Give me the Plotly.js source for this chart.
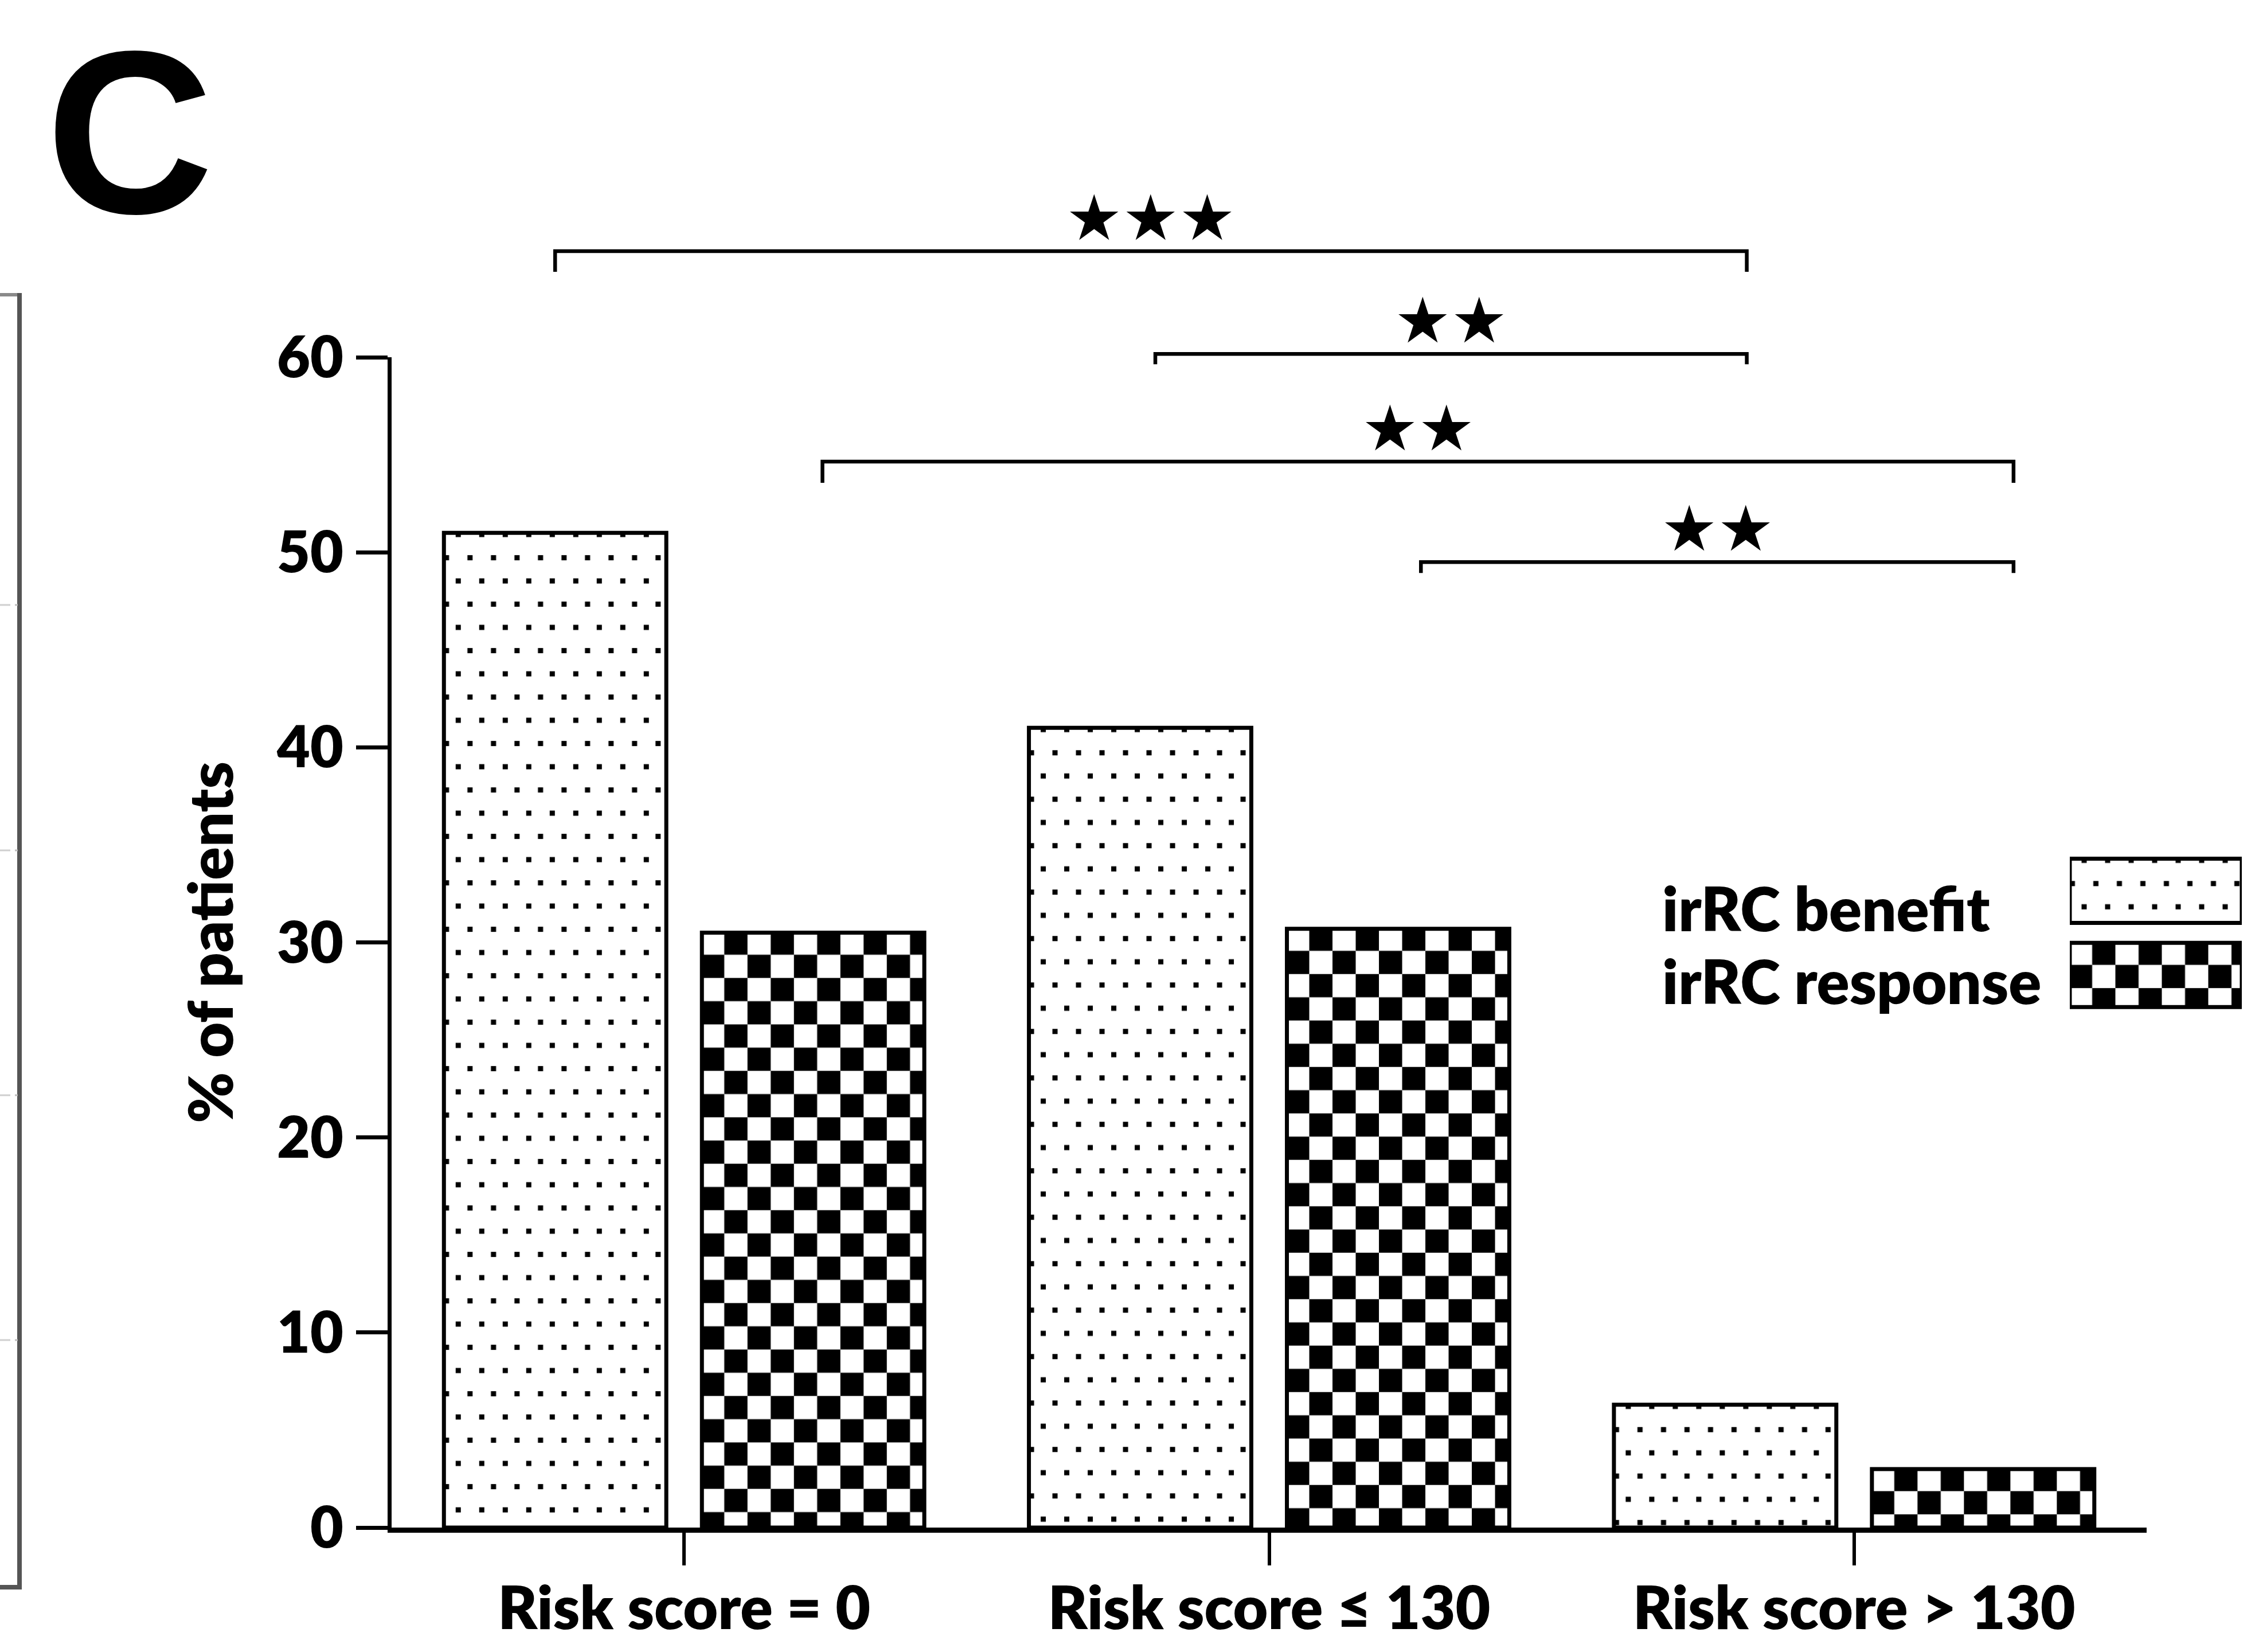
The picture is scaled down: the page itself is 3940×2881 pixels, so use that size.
<!DOCTYPE html>
<html>
<head>
<meta charset="utf-8">
<script src="https://cdn.plot.ly/plotly-3.0.1.min.js"></script>
<style>
  html, body { margin: 0; padding: 0; background: #ffffff; }
  #chart { width: 3940px; height: 2881px; }
</style>
</head>
<body>
<div id="chart"></div>
<script>
// ---------------- data ----------------
const categories   = ['Risk score = 0', 'Risk score \u2264 130', 'Risk score > 130'];
const seriesNames  = ['irRC benefit', 'irRC response'];
const seriesKinds  = ['benefit', 'response'];
const benefitPct   = [51.0, 41.0, 6.3];
const responsePct  = [30.5, 30.7, 3.0];
const yTickVals    = [0, 10, 20, 30, 40, 50, 60];
const yTickText    = ['0', '10', '20', '30', '40', '50', '60'];
const yTitle       = '% of patients';
const panelLetter  = 'C';
// significance comparisons: [category index, series] -> stars
const compFromCat  = [0, 1, 0, 1];
const compFromSer  = ['benefit', 'benefit', 'response', 'response'];
const compToCat    = [2, 2, 2, 2];
const compToSer    = ['benefit', 'benefit', 'response', 'response'];
const compStars    = ['\u2605\u2605\u2605', '\u2605\u2605', '\u2605\u2605', '\u2605\u2605'];
const legendKey    = [1, 1];

// ---------------- geometry / style ----------------
const W = 3940, H = 2881;
const M = { l: 683, r: 30, t: 623, b: 217 };
const PW = W - M.l - M.r, PH = H - M.t - M.b;
const xDomEnd = (3744 - M.l) / PW;
const X_RANGE = [-0.5, 2.5];
const BARGAP = 0.118, BARGROUPGAP = 0.138;
const pxX = px => (px - M.l) / PW;          // page px -> paper x
const pxY = py => (H - M.b - py) / PH;      // page px -> paper y
const dataXtoPaper = x => (x - X_RANGE[0]) / (X_RANGE[1] - X_RANGE[0]) * xDomEnd;
const slot = (1 - BARGAP) / 2;
const barCenter = (cat, ser) => cat + (ser === 'benefit' ? -slot / 2 : slot / 2);

const FONT = 'Lato, "Open Sans", "DejaVu Sans", sans-serif';
const WEIGHT = 800;
const black = '#000000';

// bracket styling (levels in y-axis units, drops in px, small hand-drawn offsets)
const bracketLevels = [65.44, 60.17, 54.65, 49.5];
const bracketDrops  = [36, 18, 37, 19];
const bracketNudgeL = [0.0, 0.026, 0.016, 0.039];
const bracketNudgeR = [0.037, 0.037, 0.052, 0.052];

// ---------------- traces ----------------
const barLine = { color: black, width: 7 };
const traces = [
  {
    type: 'bar', name: seriesNames[0], meta: seriesKinds[0],
    x: categories, y: benefitPct, xaxis: 'x', yaxis: 'y',
    marker: { color: '#ffffff', line: barLine,
      pattern: { shape: '.', fgcolor: black, bgcolor: '#ffffff', size: 40, solidity: 0.05 } },
    showlegend: false, hoverinfo: 'name+y'
  },
  {
    type: 'bar', name: seriesNames[1], meta: seriesKinds[1],
    x: categories, y: responsePct, xaxis: 'x', yaxis: 'y',
    marker: { color: '#ffffff', line: barLine,
      pattern: { shape: '+', fgcolor: black, bgcolor: '#ffffff', size: 81, solidity: 0.5 } },
    showlegend: false, hoverinfo: 'name+y'
  },
  {
    // legend key swatches
    type: 'bar', orientation: 'h', x: legendKey, y: seriesNames, customdata: seriesKinds,
    xaxis: 'x2', yaxis: 'y2', width: 0.763, cliponaxis: false,
    marker: { color: '#ffffff', line: barLine,
      pattern: { shape: ['.', '+'], fgcolor: black, bgcolor: '#ffffff', size: 40, solidity: 0.1 } },
    showlegend: false, hoverinfo: 'skip'
  }
];

// ---------------- shapes & annotations ----------------
const shapes = [];
const annotations = [];

// significance brackets
for (let i = 0; i < compStars.length; i++) {
  const x0 = dataXtoPaper(barCenter(compFromCat[i], compFromSer[i]) + bracketNudgeL[i]);
  const x1 = dataXtoPaper(barCenter(compToCat[i], compToSer[i]) + bracketNudgeR[i]);
  const y = bracketLevels[i] / 60;
  const yd = y - bracketDrops[i] / PH;
  shapes.push({
    type: 'path', xref: 'paper', yref: 'paper',
    path: `M ${x0} ${yd} L ${x0} ${y} L ${x1} ${y} L ${x1} ${yd}`,
    line: { color: black, width: 6.5 }
  });
  annotations.push({
    xref: 'paper', yref: 'paper', x: (x0 + x1) / 2, y: y,
    xanchor: 'center', yanchor: 'middle', yshift: 58, showarrow: false,
    text: compStars[i],
    font: { family: '"DejaVu Sans", sans-serif', size: 110, color: black }
  });
}

// legend labels (left of swatches)
annotations.push({
  xref: 'paper', yref: 'paper', x: pxX(2897), y: pxY(1583), xanchor: 'left', yanchor: 'middle',
  showarrow: false, text: seriesNames[0],
  font: { family: FONT, weight: WEIGHT, size: 106, color: black }
});
annotations.push({
  xref: 'paper', yref: 'paper', x: pxX(2897), y: pxY(1710), xanchor: 'left', yanchor: 'middle',
  showarrow: false, text: seriesNames[1],
  font: { family: FONT, weight: WEIGHT, size: 106, color: black }
});

// panel letter
annotations.push({
  xref: 'paper', yref: 'paper', x: pxX(226), y: pxY(2), xanchor: 'center', yanchor: 'top',
  showarrow: false, text: panelLetter,
  font: { family: '"Liberation Sans", Arial, sans-serif', weight: 'bold', size: 405, color: black }
});

// remnant frame of neighbouring panel at the left edge
shapes.push({
  type: 'path', xref: 'paper', yref: 'paper',
  path: `M ${pxX(0)} ${pxY(514)} L ${pxX(34)} ${pxY(514)}`,
  line: { color: '#8a8a8a', width: 6 }
});
shapes.push({
  type: 'path', xref: 'paper', yref: 'paper',
  path: `M ${pxX(34)} ${pxY(511)} L ${pxX(34)} ${pxY(2768)} L ${pxX(0)} ${pxY(2768)}`,
  line: { color: '#555555', width: 8 }
});
[1055, 1483, 1910, 2337].forEach(py => {
  shapes.push({ type: 'line', xref: 'paper', yref: 'paper',
    x0: pxX(0), x1: pxX(18), y0: pxY(py), y1: pxY(py), line: { color: '#cfcfcf', width: 3 } });
  shapes.push({ type: 'line', xref: 'paper', yref: 'paper',
    x0: pxX(26), x1: pxX(31), y0: pxY(py), y1: pxY(py), line: { color: '#bdbdbd', width: 3 } });
});

// ---------------- layout ----------------
const layout = {
  width: W, height: H, margin: M,
  paper_bgcolor: '#ffffff', plot_bgcolor: 'rgba(0,0,0,0)',
  showlegend: false,
  barmode: 'group', bargap: BARGAP, bargroupgap: BARGROUPGAP,
  xaxis: {
    domain: [0, xDomEnd], type: 'category', range: X_RANGE,
    showline: true, linewidth: 9, linecolor: black,
    ticks: 'outside', ticklen: 57, tickwidth: 6, tickcolor: black,
    tickfont: { family: FONT, weight: WEIGHT, size: 105, color: black },
    ticklabelstandoff: -15,
    showgrid: false, zeroline: false, fixedrange: true
  },
  yaxis: {
    range: [0, 60], tickvals: yTickVals, ticktext: yTickText,
    showline: true, linewidth: 7, linecolor: black,
    ticks: 'outside', ticklen: 55, tickwidth: 7, tickcolor: black,
    tickfont: { family: FONT, weight: WEIGHT, size: 100, color: black },
    ticklabelstandoff: 2,
    title: { text: yTitle, font: { family: FONT, weight: WEIGHT, size: 107, color: black }, standoff: 42 },
    showgrid: false, zeroline: false, fixedrange: true
  },
  xaxis2: { domain: [pxX(3610), 1], anchor: 'y2', range: [0, 1], visible: false, fixedrange: true },
  yaxis2: { domain: [pxY(1773.6), pxY(1480)], anchor: 'x2', type: 'category',
            range: [1.5, -0.5], visible: false, fixedrange: true },
  shapes: shapes,
  annotations: annotations
};

// ---------------- custom fills (dots / checkerboard) ----------------
function applyPatterns(gd) {
  const NS = 'http://www.w3.org/2000/svg';
  const defs = gd.querySelector('svg.main-svg defs');
  if (!defs) return;
  let n = 0;
  const mkRect = (p, x, y, w, h, c) => {
    const r = document.createElementNS(NS, 'rect');
    r.setAttribute('x', x); r.setAttribute('y', y);
    r.setAttribute('width', w); r.setAttribute('height', h);
    r.setAttribute('fill', c); p.appendChild(r);
  };
  gd.querySelectorAll('.barlayer .trace').forEach(g => {
    const cd = g.__data__;
    if (!cd || !cd[0] || !cd[0].trace) return;
    const tr = cd[0].trace;
    const pts = g.querySelectorAll('.point');
    pts.forEach((pt, j) => {
      const path = pt.tagName.toLowerCase() === 'path' ? pt : pt.querySelector('path');
      if (!path) return;
      const kind = Array.isArray(tr.customdata) ? tr.customdata[j] : tr.meta;
      const bb = path.getBBox();
      const id = 'custpat' + (n++);
      const pat = document.createElementNS(NS, 'pattern');
      pat.setAttribute('id', id);
      pat.setAttribute('patternUnits', 'userSpaceOnUse');
      if (kind === 'response') {
        const c = 40.5;
        pat.setAttribute('x', bb.x - 1.5); pat.setAttribute('y', bb.y - 2);
        pat.setAttribute('width', 2 * c); pat.setAttribute('height', 2 * c);
        mkRect(pat, 0, 0, 2 * c, 2 * c, '#ffffff');
        mkRect(pat, c, 0, c, c, black);
        mkRect(pat, 0, c, c, c, black);
      } else {
        pat.setAttribute('x', bb.x - 5.5); pat.setAttribute('y', bb.y - 17);
        pat.setAttribute('width', 41); pat.setAttribute('height', 81);
        mkRect(pat, 0, 0, 41, 81, '#ffffff');
        mkRect(pat, 26, 15.5, 9, 9, black);
        mkRect(pat, 5.5, 56, 9, 9, black);
      }
      defs.appendChild(pat);
      path.style.fill = 'url(#' + id + ')';
      path.style.fillOpacity = 1;
    });
  });
}

Plotly.newPlot('chart', traces, layout, { staticPlot: true, displayModeBar: false })
  .then(gd => applyPatterns(gd));
</script>
</body>
</html>
